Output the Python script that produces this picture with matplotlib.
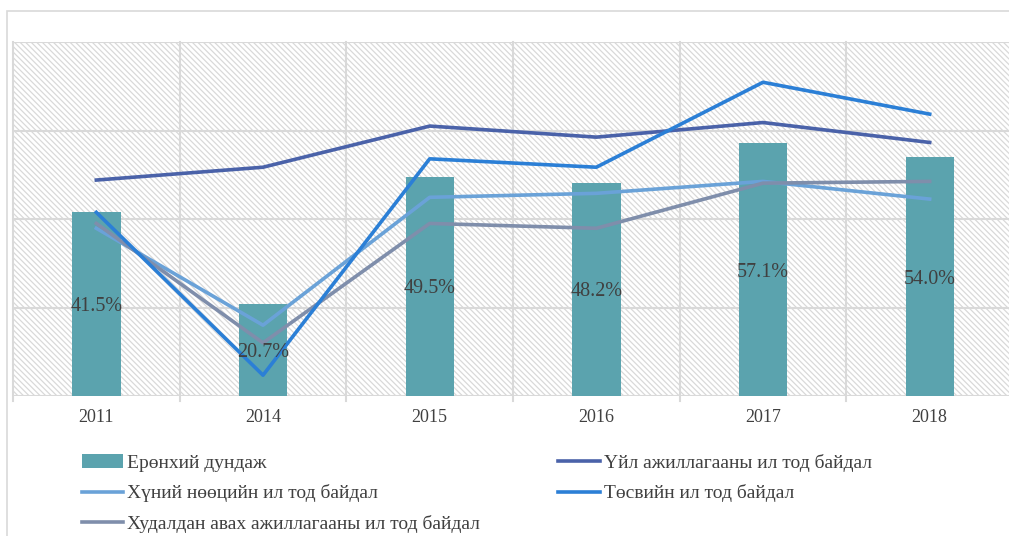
import matplotlib
matplotlib.use("Agg")
import matplotlib.pyplot as plt
from matplotlib.patches import Rectangle
import numpy as np

years = ["2011", "2014", "2015", "2016", "2017", "2018"]
overall = [41.5, 20.7, 49.5, 48.2, 57.1, 54.0]
operations = [48.8, 51.7, 61.0, 58.5, 61.8, 57.3]
human_res = [37.9, 16.0, 44.9, 45.8, 48.5, 44.5]
budget = [41.5, 4.7, 53.6, 51.7, 70.9, 63.7]
procurement = [39.0, 12.0, 39.0, 37.9, 48.1, 48.5]

names = ["Ерөнхий дундаж", "Үйл ажиллагааны ил тод байдал",
         "Хүний нөөцийн ил тод байдал", "Төсвийн ил тод байдал",
         "Худалдан авах ажиллагааны ил тод байдал"]

plt.rcParams['font.family'] = ['Liberation Serif', 'DejaVu Serif']
plt.rcParams['hatch.color'] = '#d9d9d9'
plt.rcParams['hatch.linewidth'] = 0.9

fig = plt.figure(figsize=(10.09, 5.36), dpi=100)
# outer chart frame
fig.patches.append(Rectangle((7/1009, -0.5), 2.0, 1.5 - 11/536,
                             transform=fig.transFigure, fill=False,
                             edgecolor='#d9d9d9', lw=1.2, zorder=0))

ax = fig.add_axes([13/1009, 1 - 396/536, 1000/1009, 354/536])
ax.set_xlim(-0.5, 5.5)
ax.set_ylim(0, 80)
x = np.arange(len(years))

bg = Rectangle((0, 0), 1, 1, transform=ax.transAxes, facecolor='white',
               hatch='\\\\\\\\\\\\', edgecolor='#d9d9d9', lw=0, zorder=0)
ax.add_patch(bg)

for yv in [20, 40, 60, 80]:
    ax.axhline(yv, color='#d9d9d9', lw=1.5, zorder=1)
for xv in np.arange(-0.5, 6, 1.0):
    ax.plot([xv, xv], [-0.015, 1], transform=ax.get_xaxis_transform(),
            color='#d9d9d9', lw=1.5, zorder=1, clip_on=False)
ax.axhline(0, color='#d9d9d9', lw=1.5, zorder=1)

bars = ax.bar(x, overall, width=0.29, color='#5ba3ae', zorder=2, label=names[0])
for xi, v in zip(x, overall):
    ax.text(xi, v / 2, f"{v:.1f}%", ha='center', va='center_baseline',
            fontsize=14.5, color='#404040', zorder=5)

lw = 2.6
l_ops, = ax.plot(x, operations, color='#4a62a9', lw=lw, zorder=3, label=names[1])
l_hr, = ax.plot(x, human_res, color='#6aa2d8', lw=lw, zorder=3, label=names[2])
l_bud, = ax.plot(x, budget, color='#2b7fd6', lw=lw, zorder=4, label=names[3])
l_proc, = ax.plot(x, procurement, color='#7f8eab', lw=lw, zorder=3, label=names[4])

for s in ax.spines.values():
    s.set_visible(False)
ax.set_yticks([])
ax.set_xticks(x)
ax.set_xticklabels(years, fontsize=13, color='#404040')
ax.tick_params(axis='x', length=0, pad=9)

handles = [bars, l_hr, l_proc, l_ops, l_bud]
labels = [names[0], names[2], names[4], names[1], names[3]]
leg = fig.legend(handles, labels, ncol=2, loc='upper left',
                 bbox_to_anchor=(64/1009, 1 - 436/536), frameon=False,
                 fontsize=14, handlelength=2.15, handletextpad=0.2,
                 columnspacing=4.0, labelspacing=0.66)
for t in leg.get_texts():
    t.set_color('#404040')

fig.savefig("out.png", dpi=100)
